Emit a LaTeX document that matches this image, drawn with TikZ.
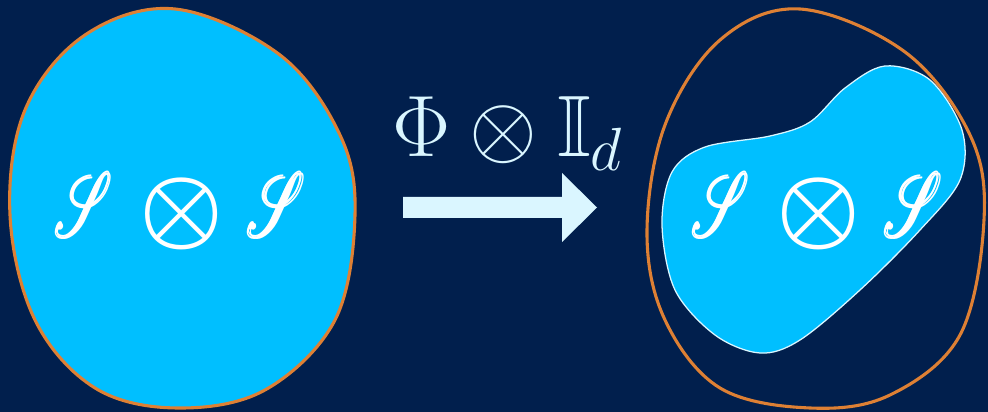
\RequirePackage{fix-cm}
\documentclass[tikz,border=0pt]{standalone}
\usepackage{amsmath, amssymb, mathrsfs}
\usepackage{tikz}
\DeclareFontFamily{U}{rsfs}{\skewchar\font127}
\DeclareFontShape{U}{rsfs}{m}{n}{<-6> rsfs5 <6-8> rsfs7 <8-> rsfs10}{}
\definecolor{navybg}{RGB}{1,31,77}
\definecolor{setcyan}{RGB}{0,191,255}
\definecolor{rimorange}{RGB}{222,128,52}
\definecolor{paleblue}{RGB}{218,246,255}
\tikzset{
  setblob/.style={fill=setcyan, draw=rimorange, line width=2.2pt},
  hullblob/.style={draw=rimorange, line width=2.2pt},
  imageblob/.style={fill=setcyan, draw=paleblue, line width=0.9pt},
  statelabel/.style={text=white, inner sep=0pt, font=\fontsize{54}{60}\selectfont},
  maplabel/.style={text=paleblue, inner sep=0pt, font=\fontsize{62}{68}\selectfont},
  maparrow/.style={fill=paleblue}
}
\newcommand{\scrS}{\scalebox{0.72}[1.2]{$\pmb{\mathscr{S}}$}}
\newcommand{\sos}{\scrS\hspace{0.65cm}{\fontsize{67}{72}\selectfont$\boldsymbol{\otimes}$}\hspace{0.6cm}\scrS}

\begin{document}
\begin{tikzpicture}[x=0.025cm, y=-0.025cm]
  \useasboundingbox (0,0) rectangle (988,412);
  \fill[navybg] (0,0) rectangle (988,412);

  % input set
  \draw[setblob] plot[smooth cycle, tension=0.6] coordinates {
    (175,9) (280,55) (340,135) (355,215) (335,320) (265,390) (177,408)
    (95,388) (35,320) (10,215) (25,110) (85,35)};
  \node[statelabel] (inset) at (181,211) {\sos};

  % the map
  \fill[maparrow] (403,197) -- (562,197) -- (562,173) -- (597,207.5)
    -- (562,242) -- (562,218) -- (403,218) -- cycle;
  \node[maplabel, anchor=base west] (maplbl) at (392,157) {$\Phi\otimes\mathbb{I}_d$};

  % output set inside the hull
  \draw[hullblob] plot[smooth cycle, tension=0.6] coordinates {
    (800,9) (905,52) (970,135) (984,220) (960,335) (890,395) (810,408)
    (720,388) (665,320) (647,233) (665,125) (720,40)};
  \draw[imageblob] plot[smooth cycle, tension=0.55] coordinates {
    (662,225) (672,172) (705,147) (770,136) (810,122) (845,88) (885,66)
    (930,80) (962,130) (960,180) (920,230) (860,290) (800,340) (760,353)
    (715,335) (675,290)};
  \node[statelabel] (outset) at (818,211) {\sos};
\end{tikzpicture}
\end{document}
